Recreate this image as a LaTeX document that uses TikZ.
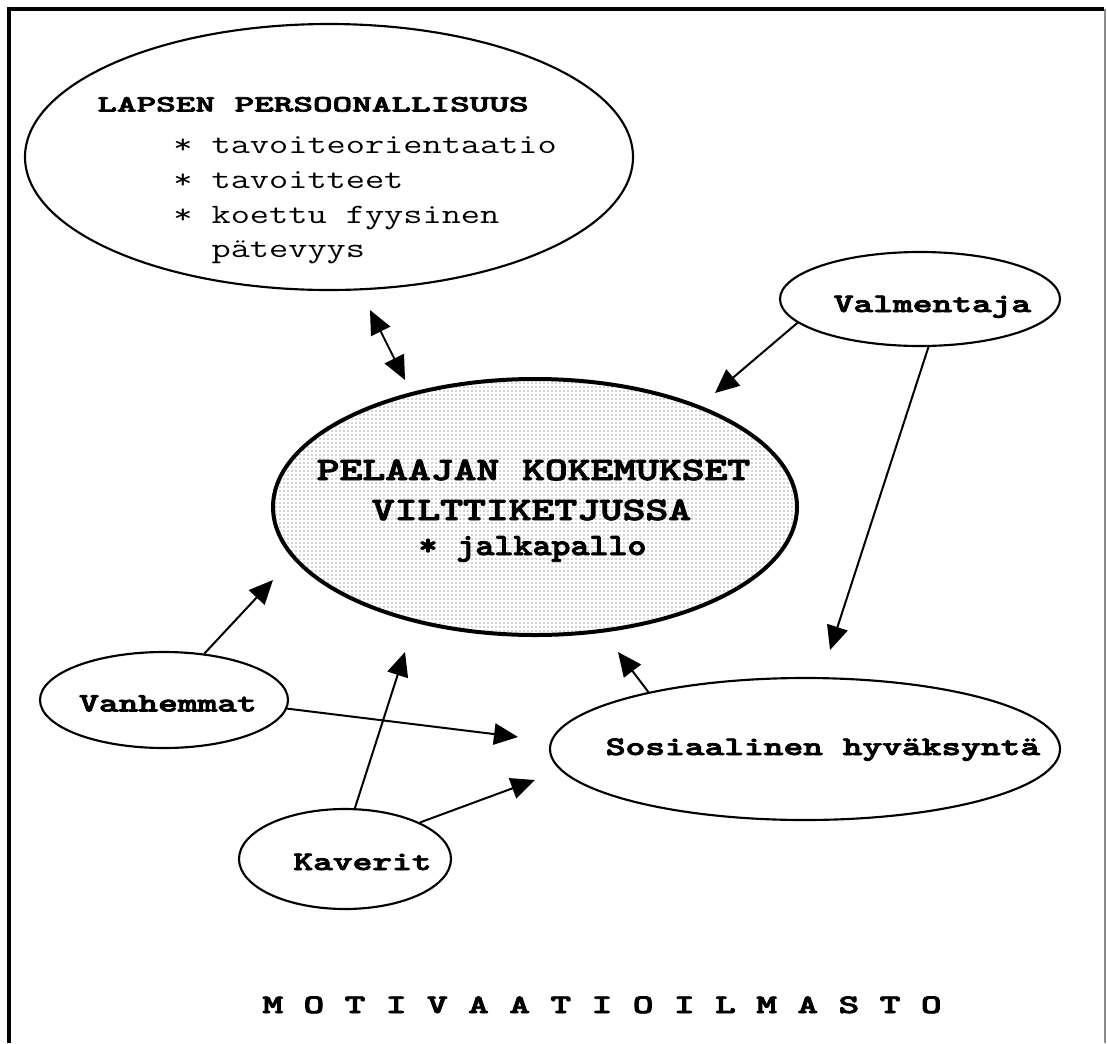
\documentclass[tikz,border=0pt]{standalone}
\usepackage{graphicx}
\usepackage{fontspec}
\newfontfamily\tbf{lmmonolt10-bold.otf}[FakeBold=2.6]
\usetikzlibrary{shapes.geometric,arrows.meta,patterns}
\newcommand{\mtxt}[3]{\scalebox{#1}[1]{\fontsize{#2}{#2}\selectfont #3}}
\tikzset{
  oval/.style={ellipse, draw, line width=1.6pt, inner sep=0pt},
  bigoval/.style={ellipse, draw, line width=3pt, inner sep=0pt, pattern=dots, pattern color=black!75},
  lbl/.style={anchor=base, inner sep=0pt, font=\tbf},
  itm/.style={anchor=base west, inner sep=0pt, font=\ttfamily},
  arr/.style={-{Triangle[length=18pt,width=16pt]}, line width=1.5pt},
  dblarr/.style={{Triangle[length=18pt,width=16pt]}-{Triangle[length=18pt,width=16pt]}, line width=1.5pt},
}
\begin{document}
\begin{tikzpicture}[x=0.75pt,y=-0.75pt]
\useasboundingbox (0,0) rectangle (1107,1043);
% frame
\draw[line width=2.4pt] (9,1043) -- (9,9) -- (1104,9);
\draw[line width=1pt, black!45] (1105,9) -- (1105,1043);

% ellipses
\node[oval, minimum width=456pt, minimum height=199.5pt] (lapsen) at (329,157) {};
\node[bigoval, minimum width=393pt, minimum height=192pt] (central) at (535,507) {};
\node[oval, minimum width=210pt, minimum height=70.5pt] (valm) at (920,299) {};
\node[oval, minimum width=186pt, minimum height=72pt] (vanh) at (164,700) {};
\node[oval, minimum width=159pt, minimum height=75pt] (kav) at (345,859) {};
\node[oval, minimum width=382.5pt, minimum height=106.5pt] (sos) at (805,749) {};

% texts in LAPSEN
\node[lbl] (lapsenT) at (313,111.5) {\mtxt{1.6}{17.5pt}{LAPSEN PERSOONALLISUUS}};
\node[itm] (l1) at (173,153) {\mtxt{1.33}{21pt}{* tavoiteorientaatio}};
\node[itm] (l2) at (173,188) {\mtxt{1.33}{21pt}{* tavoitteet}};
\node[itm] (l3) at (173,223) {\mtxt{1.33}{21pt}{* koettu fyysinen}};
\node[itm] (l4) at (173,257) {\mtxt{1.33}{21pt}{\phantom{* }pätevyys}};

% central texts
\node[lbl] (c1) at (533.5,480) {\mtxt{1.33}{24.5pt}{PELAAJAN KOKEMUKSET}};
\node[lbl] (c2) at (531.5,520) {\mtxt{1.33}{24.5pt}{VILTTIKETJUSSA}};
\node[lbl] (c3) at (532.5,555) {\mtxt{1.17}{23.2pt}{* jalkapallo}};

% small node texts
\node[lbl] (valmT) at (932.5,312) {\mtxt{1.41}{20pt}{Valmentaja}};
\node[lbl] (vanhT) at (168,711.5) {\mtxt{1.41}{20pt}{Vanhemmat}};
\node[lbl] (kavT) at (362.5,870) {\mtxt{1.41}{20pt}{Kaverit}};
\node[lbl] (sosT) at (823,755) {\mtxt{1.41}{20pt}{Sosiaalinen hyväksyntä}};

% bottom title
\node[lbl] (motiv) at (602,1013) {\mtxt{1.47}{20pt}{M O T I V A A T I O I L M A S T O}};

% free arrow ends
\coordinate (dA) at (370,310);
\coordinate (dB) at (405,380);
\coordinate (tValmC) at (715,393);
\coordinate (tValmS) at (830,650);
\coordinate (tVanhC) at (273,580);
\coordinate (tVanhS) at (518,737);
\coordinate (tKavC) at (405,652);
\coordinate (tKavS) at (535,780);
\coordinate (tSosC) at (618,652);

% arrows
\draw[dblarr] (dA) -- (dB);
\draw[arr] (valm.191) -- (tValmC);
\draw[arr] (valm.280) -- (tValmS);
\draw[arr] (vanh.49) -- (tVanhC);
\draw[arr] (vanh.356) -- (tVanhS);
\draw[arr] (kav.79) -- (tKavC);
\draw[arr] (kav.26) -- (tKavS);
\draw[arr] (sos.160) -- (tSosC);
\end{tikzpicture}
\end{document}
